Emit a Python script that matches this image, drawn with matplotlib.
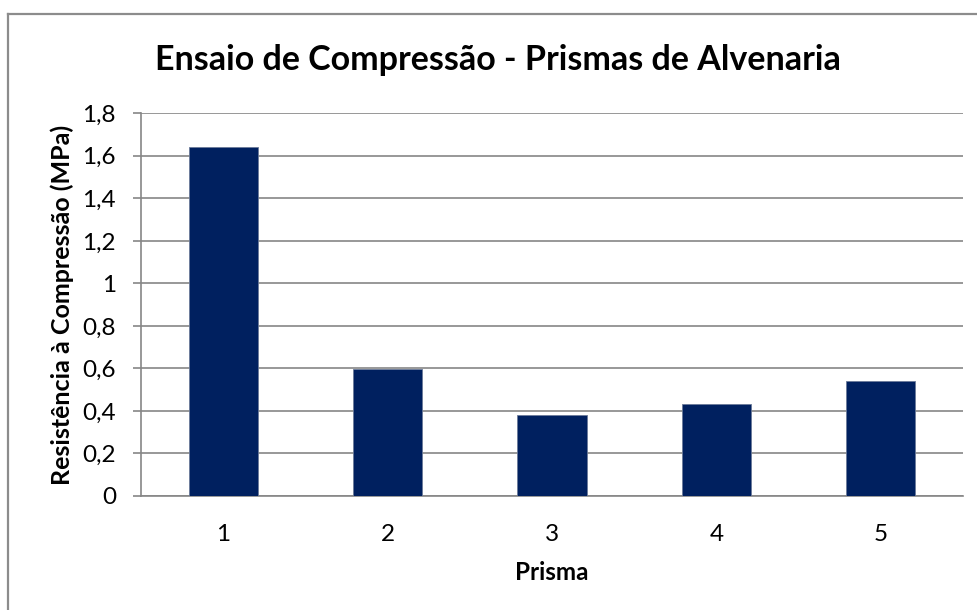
import matplotlib
matplotlib.use("Agg")
import matplotlib.pyplot as plt
from matplotlib.lines import Line2D
from matplotlib.ticker import FuncFormatter

categories = ["1", "2", "3", "4", "5"]
resistencia = [1.64, 0.595, 0.38, 0.432, 0.543]
y_ticks = [0, 0.2, 0.4, 0.6, 0.8, 1.0, 1.2, 1.4, 1.6, 1.8]

plt.rcParams["font.family"] = ["Lato", "DejaVu Sans"]

W, H = 978, 610
fig = plt.figure(figsize=(W / 100, H / 100), dpi=100)
fig.patch.set_facecolor("white")

# chart frame (top and left edges)
border = dict(transform=fig.transFigure, color="#8c8c8c", linewidth=1.6)
fig.lines.append(Line2D([8 / W, 1.0], [1 - 14 / H, 1 - 14 / H], **border))
fig.lines.append(Line2D([8 / W, 8 / W], [0, 1 - 14 / H], **border))

ax = fig.add_axes([141 / W, 1 - 496 / H, 822 / W, 382.7 / H])
x = list(range(len(categories)))
ax.bar(x, resistencia, width=0.42, color="#00205F",
       edgecolor="#6b7a99", linewidth=0.6, zorder=3)

ax.set_xlim(-0.5, len(categories) - 0.5)
ax.set_ylim(0, 1.8)
ax.set_yticks(y_ticks)
ax.yaxis.set_major_formatter(FuncFormatter(lambda v, p: f"{v:g}".replace(".", ",")))
ax.set_xticks(x)
ax.set_xticklabels(categories)

ax.grid(axis="y", color="#868686", linewidth=1.2, zorder=0)
for s in ("top", "right"):
    ax.spines[s].set_visible(False)
for s in ("left", "bottom"):
    ax.spines[s].set_color("#868686")
    ax.spines[s].set_linewidth(1.2)
ax.tick_params(axis="y", length=6, color="#868686", width=1.2, labelsize=17.5, pad=12)
ax.tick_params(axis="x", length=0, labelsize=17.5, pad=20)

ax.set_xlabel("Prisma", fontsize=17.5, fontweight="bold", labelpad=12)
ax.set_ylabel("Resistência à Compressão (MPa)", fontsize=18, fontweight="bold", labelpad=6)

fig.text(498 / W, 1 - 60 / H, "Ensaio de Compressão - Prismas de Alvenaria",
         ha="center", va="center", fontsize=24.5, fontweight="bold")

fig.savefig("out.png", dpi=100, facecolor="white")
